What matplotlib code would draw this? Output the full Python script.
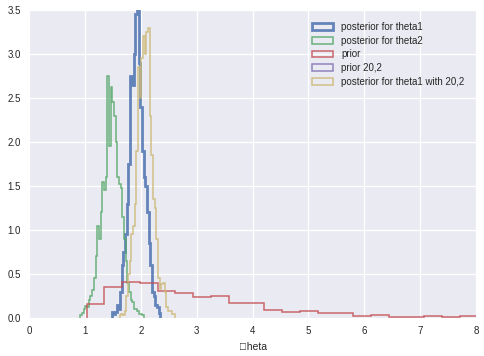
import numpy as np
import matplotlib
matplotlib.use('Agg')
import matplotlib.pyplot as plt

# --- data (density heights per bin) ---
theta1_start, theta1_width = 1.48, 0.03
theta1_vals = [0.07, 0.05, 0.07, 0.15, 0.10, 0.30, 0.60, 0.75, 0.95, 1.30,
               1.75, 2.75, 2.65, 3.00, 3.45, 3.65, 2.90, 2.40, 1.90, 1.60,
               1.50, 1.20, 0.85, 0.60, 0.30, 0.25, 0.15, 0.12, 0.06]

theta2_start, theta2_width = 0.92, 0.03
theta2_vals = [0.03, 0.06, 0.10, 0.14, 0.12, 0.20, 0.25, 0.32, 0.45, 0.70,
               1.05, 0.90, 1.20, 1.55, 1.45, 1.60, 2.75, 1.95, 2.62, 2.45,
               2.30, 2.00, 1.60, 1.52, 1.48, 1.15, 0.90, 0.65, 0.40, 0.30,
               0.20, 0.18, 0.10, 0.10, 0.08, 0.05, 0.05, 0.03]

prior_start, prior_width = 1.03, 0.318
prior_vals = [0.16, 0.35, 0.41, 0.395, 0.31, 0.28, 0.235, 0.25, 0.175, 0.165,
              0.09, 0.07, 0.08, 0.06, 0.06, 0.025, 0.035, 0.015, 0.015, 0.025,
              0.01, 0.02, 0.01, 0.008, 0.005, 0.004]

prior202_start, prior202_width = 18.0, 4.0
prior202_vals = [0.002, 0.01, 0.03, 0.045, 0.04, 0.025, 0.01, 0.003]

theta1b_start, theta1b_width = 1.62, 0.03
theta1b_vals = [0.03, 0.04, 0.03, 0.08, 0.25, 0.50, 0.65, 0.95, 1.05, 1.30,
                1.90, 2.85, 2.50, 2.95, 3.20, 3.00, 3.25, 3.30, 2.30, 1.85,
                1.35, 1.25, 0.90, 0.45, 0.33, 0.38, 0.40, 0.30, 0.12, 0.08,
                0.08, 0.04, 0.04]

labels = ['posterior for theta1', 'posterior for theta2', 'prior',
          'prior 20,2', 'posterior for theta1 with 20,2']
colors = ['#4C72B0', '#55A868', '#C44E52', '#8172B2', '#CCB974']

plt.rcParams['font.family'] = ['Liberation Sans', 'DejaVu Sans']
plt.rcParams['font.size'] = 7

fig = plt.figure(figsize=(4.84, 3.56), dpi=100)
ax = fig.add_axes([0.06, 0.107, 0.9235, 0.865])
ax.set_facecolor('#EAEAF2')
for s in ax.spines.values():
    s.set_visible(False)
ax.grid(True, color='white', lw=0.9)
ax.set_axisbelow(True)


def step_hist(start, width, vals, color, label, lw):
    vals = np.asarray(vals)
    edges = start + width * np.arange(len(vals) + 1)
    ax.hist(edges[:-1], bins=edges, weights=vals, histtype='step',
            color=color, label=label, lw=lw, alpha=0.85)


step_hist(theta1_start, theta1_width, theta1_vals, colors[0], labels[0], 2.0)
step_hist(theta2_start, theta2_width, theta2_vals, colors[1], labels[1], 1.1)
step_hist(prior_start, prior_width, prior_vals, colors[2], labels[2], 1.1)
step_hist(prior202_start, prior202_width, prior202_vals, colors[3], labels[3], 1.1)
step_hist(theta1b_start, theta1b_width, theta1b_vals, colors[4], labels[4], 1.1)

ax.set_xlim(0, 8)
ax.set_ylim(0, 3.5)
ax.set_xticks(np.arange(0, 9, 1))
ax.set_yticks(np.arange(0, 3.51, 0.5))
ax.yaxis.set_major_formatter(matplotlib.ticker.FormatStrFormatter('%.1f'))
ax.tick_params(length=0, pad=6, labelcolor='#262626')
ax.set_xlabel('\theta', color='#262626', labelpad=4, fontsize=7.5)

leg = ax.legend(loc='upper right', frameon=False, handlelength=2.2,
                labelspacing=0.4, borderaxespad=0.8)
for t in leg.get_texts():
    t.set_color('#262626')

fig.savefig('out.png', dpi=100)
